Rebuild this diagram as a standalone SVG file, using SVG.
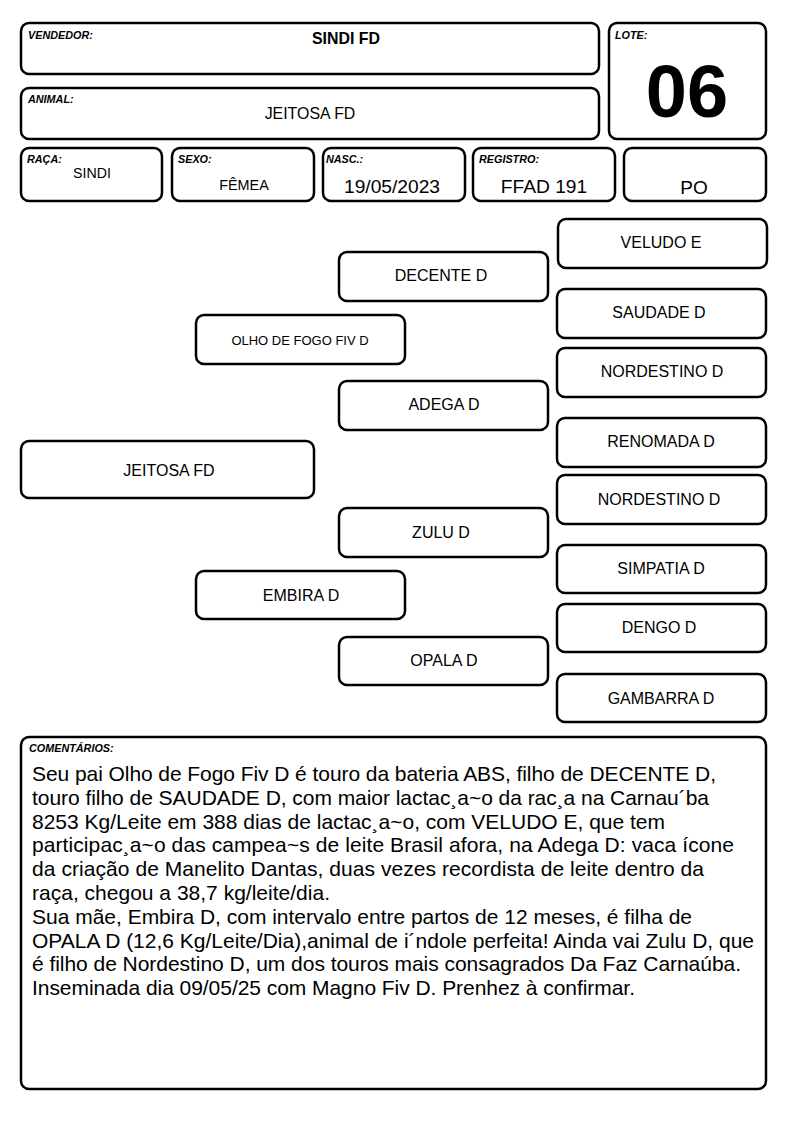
<svg xmlns="http://www.w3.org/2000/svg" width="794" height="1123" viewBox="0 0 794 1123">
<style>
.b{fill:#fff;stroke:#000;stroke-width:2.5}
.lb{font-family:"Liberation Sans",Arial,sans-serif;font-weight:bold;font-style:italic;font-size:10.8px;fill:#000}
.t{font-family:"Liberation Sans",Arial,sans-serif;fill:#000;text-anchor:middle}
.p{font-size:16px}
.c{font-family:"Liberation Sans",Arial,sans-serif;font-size:21px;fill:#000}
</style>
<rect width="794" height="1123" fill="#fff"/>
<g id="vendedor"><rect class="b" x="21" y="23" width="578" height="51" rx="8"/><text class="lb" x="28" y="39">VENDEDOR:</text><text class="t" x="346" y="44" font-size="15.9" font-weight="bold">SINDI FD</text></g>
<g id="animal"><rect class="b" x="21" y="88" width="578" height="51" rx="8"/><text class="lb" x="28" y="103">ANIMAL:</text><text class="t" x="310" y="119" font-size="15.9">JEITOSA FD</text></g>
<g id="lote"><rect class="b" x="609" y="23" width="157" height="116" rx="8"/><text class="lb" x="615" y="39">LOTE:</text><text class="t" x="687" y="117" font-size="74" font-weight="bold">06</text></g>
<g id="raca"><rect class="b" x="21" y="148" width="141" height="53" rx="8"/><text class="lb" x="27" y="163">RAÇA:</text><text class="t" x="92" y="178" font-size="14.2">SINDI</text></g>
<g id="sexo"><rect class="b" x="172" y="148" width="142" height="53" rx="8"/><text class="lb" x="178" y="163">SEXO:</text><text class="t" x="244" y="190" font-size="14.4">FÊMEA</text></g>
<g id="nasc"><rect class="b" x="323" y="148" width="142" height="53" rx="8"/><text class="lb" x="326" y="163">NASC.:</text><text class="t" x="392" y="193" font-size="19.2">19/05/2023</text></g>
<g id="registro"><rect class="b" x="473" y="148" width="142" height="53" rx="8"/><text class="lb" x="479" y="163">REGISTRO:</text><text class="t" x="544" y="193" font-size="19.2">FFAD 191</text></g>
<g id="po"><rect class="b" x="624" y="148" width="142" height="53" rx="8"/><text class="t" x="694" y="194" font-size="19">PO</text></g>
<g id="n-veludo"><rect class="b" x="558" y="219" width="209" height="49" rx="8"/><text class="t p" x="661" y="248">VELUDO E</text></g>
<g id="n-decente"><rect class="b" x="339" y="252" width="209" height="49" rx="8"/><text class="t p" x="441" y="281">DECENTE D</text></g>
<g id="n-saudade"><rect class="b" x="557" y="289" width="209" height="49" rx="8"/><text class="t p" x="659" y="318">SAUDADE D</text></g>
<g id="n-olho"><rect class="b" x="196" y="315" width="209" height="49" rx="8"/><text class="t" x="300" y="345" font-size="13">OLHO DE FOGO FIV D</text></g>
<g id="n-nordestino1"><rect class="b" x="557" y="348" width="209" height="49" rx="8"/><text class="t p" x="662" y="377">NORDESTINO D</text></g>
<g id="n-adega"><rect class="b" x="339" y="381" width="209" height="49" rx="8"/><text class="t p" x="444" y="410">ADEGA D</text></g>
<g id="n-renomada"><rect class="b" x="557" y="418" width="209" height="49" rx="8"/><text class="t p" x="661" y="447">RENOMADA D</text></g>
<g id="n-jeitosa"><rect class="b" x="21" y="441" width="293" height="57" rx="8"/><text class="t p" x="169" y="476">JEITOSA FD</text></g>
<g id="n-nordestino2"><rect class="b" x="557" y="475" width="209" height="49" rx="8"/><text class="t p" x="659" y="505">NORDESTINO D</text></g>
<g id="n-zulu"><rect class="b" x="339" y="508" width="209" height="49" rx="8"/><text class="t p" x="441" y="538">ZULU D</text></g>
<g id="n-simpatia"><rect class="b" x="557" y="545" width="209" height="48" rx="8"/><text class="t p" x="661" y="574">SIMPATIA D</text></g>
<g id="n-embira"><rect class="b" x="196" y="571" width="209" height="48" rx="8"/><text class="t p" x="301" y="601">EMBIRA D</text></g>
<g id="n-dengo"><rect class="b" x="557" y="604" width="209" height="48" rx="8"/><text class="t p" x="659" y="633">DENGO D</text></g>
<g id="n-opala"><rect class="b" x="339" y="637" width="209" height="48" rx="8"/><text class="t p" x="444" y="666">OPALA D</text></g>
<g id="n-gambarra"><rect class="b" x="557" y="674" width="209" height="48" rx="8"/><text class="t p" x="661" y="704">GAMBARRA D</text></g>
<g id="connectors"></g>
<g id="comentarios"><rect class="b" x="21" y="737" width="745" height="352" rx="8"/><text class="lb" x="29" y="752">COMENTÁRIOS:</text>
<text class="c" x="32" y="781" textLength="684" lengthAdjust="spacing">Seu pai Olho de Fogo Fiv D é touro da bateria ABS, filho de DECENTE D,</text>
<text class="c" x="32" y="804.8" textLength="677" lengthAdjust="spacing">touro filho de SAUDADE D, com maior lactac¸a~o da rac¸a na Carnau´ba</text>
<text class="c" x="32" y="828.6" textLength="633" lengthAdjust="spacing">8253 Kg/Leite em 388 dias de lactac¸a~o, com VELUDO E, que tem</text>
<text class="c" x="32" y="852.4" textLength="702" lengthAdjust="spacing">participac¸a~o das campea~s de leite Brasil afora, na Adega D: vaca ícone</text>
<text class="c" x="32" y="876.2" textLength="672" lengthAdjust="spacing">da criação de Manelito Dantas, duas vezes recordista de leite dentro da</text>
<text class="c" x="32" y="900" textLength="298" lengthAdjust="spacing">raça, chegou a 38,7 kg/leite/dia.</text>
<text class="c" x="32" y="923.8" textLength="660" lengthAdjust="spacing">Sua mãe, Embira D, com intervalo entre partos de 12 meses, é filha de</text>
<text class="c" x="32" y="947.6" textLength="722" lengthAdjust="spacing">OPALA D (12,6 Kg/Leite/Dia),animal de i´ndole perfeita! Ainda vai Zulu D, que</text>
<text class="c" x="32" y="971.4" textLength="709" lengthAdjust="spacing">é filho de Nordestino D, um dos touros mais consagrados Da Faz Carnaúba.</text>
<text class="c" x="32" y="995.2" textLength="603" lengthAdjust="spacing">Inseminada dia 09/05/25 com Magno Fiv D. Prenhez à confirmar.</text>
</g>
</svg>
